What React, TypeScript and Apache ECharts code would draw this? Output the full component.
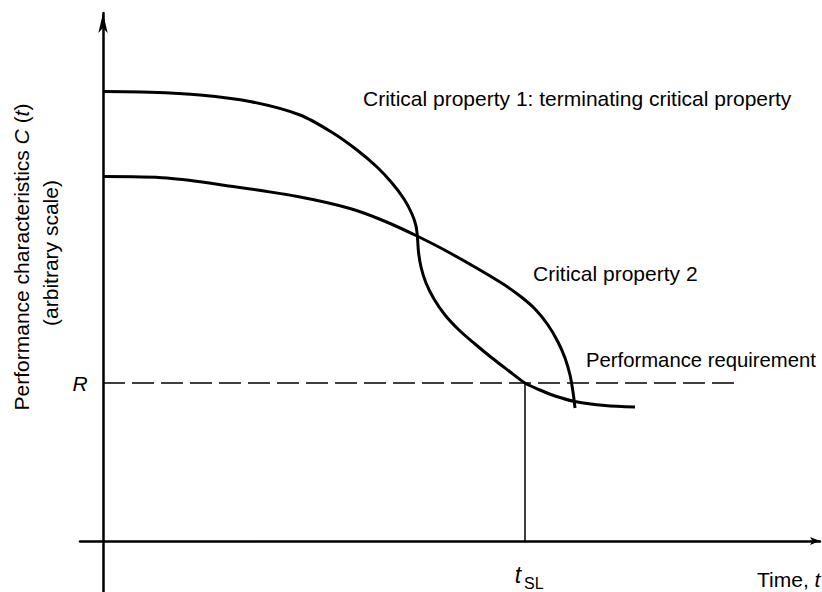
import React, { useEffect, useRef } from "react";
import * as echarts from "echarts";

// Critical property 1 (terminating): time t, performance C
const T1 = [0, 4.7, 9.7, 14.7, 19.7, 23, 25.4, 27.4, 28.9, 30.1, 30.9, 31.3, 31.45, 31.55, 31.8, 32.3, 33.1, 34.2, 35.6, 37.2, 38.9, 40.6, 42.2, 43.7, 45.2, 47.2, 50.2, 53.2];
const C1 = [44.95, 44.88, 44.6, 43.95, 42.6, 40.8, 39.1, 37.4, 35.8, 34.2, 32.7, 31.5, 30.3, 28.9, 27.4, 25.8, 24.2, 22.6, 21.1, 19.7, 18.3, 17.0, 15.8, 15.1, 14.5, 13.95, 13.55, 13.4];
// Critical property 2
const T2 = [0, 6.4, 13, 19.7, 24.7, 28, 31.4, 34.7, 39.7, 41.7, 43.2, 44.5, 45.5, 46.2, 46.7, 47, 47.2];
const C2 = [36.45, 36.3, 35.45, 34.4, 33.25, 32.05, 30.5, 28.8, 25.9, 24.5, 23.2, 21.6, 19.9, 18.3, 16.6, 14.9, 13.3];
// Performance requirement and service life
const R_VALUE = 15.8;
const T_SL = 42.2;
const R_LINE_T = [0, 63.4];

const FONT = "'Liberation Sans', Arial, sans-serif";
const FS = 21;

export default function App() {
  const ref = useRef<HTMLDivElement>(null);
  useEffect(() => {
    document.body.style.margin = "0";
    const chart = echarts.init(ref.current!, null, { renderer: "svg" });
    const zip = (a: number[], b: number[]) => a.map((v, i) => [v, b[i]]);
    const curveStyle = { color: "#000", width: 3 };
    const n = { fontFamily: FONT, fontSize: FS, fill: "#000" };
    const it = { fontFamily: FONT, fontSize: FS, fontStyle: "italic", fill: "#000" };
    chart.setOption({
      animation: false,
      backgroundColor: "#fff",
      grid: { left: 80, top: 13, width: 740, height: 579, containLabel: false },
      xAxis: {
        type: "value",
        min: -2.3,
        max: 71.7,
        axisLine: {
          show: true,
          onZero: true,
          symbol: ["none", "arrow"],
          symbolSize: [6, 10],
          lineStyle: { color: "#000", width: 2.5 },
        },
        axisTick: { show: false },
        axisLabel: { show: false },
        splitLine: { show: false },
      },
      yAxis: {
        type: "value",
        min: -5.1,
        max: 52.8,
        axisLine: {
          show: true,
          onZero: true,
          symbol: ["none", "arrow"],
          symbolSize: [7, 20],
          lineStyle: { color: "#000", width: 2.5 },
        },
        axisTick: { show: false },
        axisLabel: { show: false },
        splitLine: { show: false },
      },
      series: [
        {
          name: "Critical property 1",
          type: "line",
          data: zip(T1, C1),
          smooth: 0.3,
          showSymbol: false,
          lineStyle: curveStyle,
          z: 3,
        },
        {
          name: "Critical property 2",
          type: "line",
          data: zip(T2, C2),
          smooth: 0.3,
          showSymbol: false,
          lineStyle: curveStyle,
          z: 3,
        },
        {
          name: "Performance requirement",
          type: "line",
          data: R_LINE_T.map((t) => [t, R_VALUE]),
          showSymbol: false,
          lineStyle: { color: "#000", width: 1.5, type: [22, 7] },
          z: 2,
        },
        {
          name: "tSL",
          type: "line",
          data: [[T_SL, 0], [T_SL, R_VALUE]],
          showSymbol: false,
          lineStyle: { color: "#000", width: 1.5 },
          z: 2,
        },
      ],
      graphic: [
        {
          type: "text",
          x: 21,
          y: 257,
          rotation: Math.PI / 2,
          style: {
            text: "{n|Performance characteristics }{i|C}{n| (}{i|t}{n|)}",
            align: "center",
            verticalAlign: "middle",
            fill: "#000",
            rich: { n, i: it },
          },
        },
        {
          type: "text",
          x: 50,
          y: 253,
          rotation: Math.PI / 2,
          style: { text: "(arbitrary scale)", align: "center", verticalAlign: "middle", ...n },
        },
        {
          type: "text",
          x: 80,
          y: 383,
          style: { text: "R", align: "center", verticalAlign: "middle", ...it },
        },
        {
          type: "text",
          x: 363,
          y: 98,
          style: { text: "Critical property 1: terminating critical property", align: "left", verticalAlign: "middle", ...n },
        },
        {
          type: "text",
          x: 533,
          y: 273,
          style: { text: "Critical property 2", align: "left", verticalAlign: "middle", ...n },
        },
        {
          type: "text",
          x: 586,
          y: 360,
          style: { text: "Performance requirement", align: "left", verticalAlign: "middle", ...n, fontSize: 20.3 },
        },
        {
          type: "text",
          x: 518,
          y: 575,
          style: { text: "t", align: "center", verticalAlign: "middle", ...it, fontSize: 23 },
        },
        {
          type: "text",
          x: 524,
          y: 583,
          style: { text: "SL", align: "left", verticalAlign: "middle", ...n, fontSize: 16 },
        },
        {
          type: "text",
          x: 757,
          y: 579,
          style: { text: "{n|Time, }{i|t}", align: "left", verticalAlign: "middle", rich: { n, i: it } },
        },
      ],
    });
    return () => chart.dispose();
  }, []);
  return <div ref={ref} style={{ width: 822, height: 592 }} />;
}
